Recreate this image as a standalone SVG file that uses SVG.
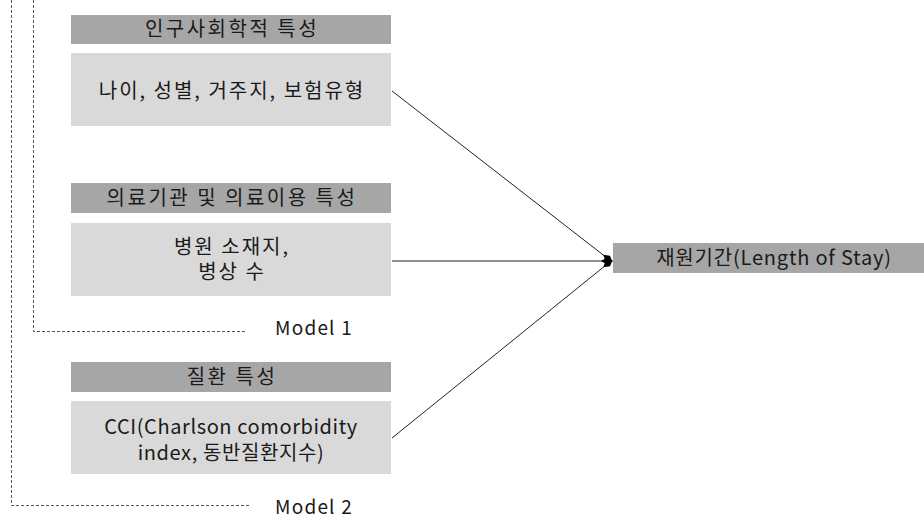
<svg xmlns="http://www.w3.org/2000/svg" width="924" height="520" viewBox="0 0 924 520">
<defs>
<style>
text{font-family:"Noto Sans CJK KR","Malgun Gothic",sans-serif;fill:#1a1a1a;text-anchor:middle;}
.hd{fill:#a6a6a6;}
.bd{fill:#d9d9d9;}
.t{font-size:20px;letter-spacing:2.5px;}
.b{font-size:20px;letter-spacing:2px;}
.m{font-size:19px;letter-spacing:1.2px;}
.los{font-size:20px;letter-spacing:0.8px;}
.dash{fill:none;stroke:#555;stroke-width:1;stroke-dasharray:3 2;}
.conn{stroke:#222;stroke-width:1;fill:none;marker-end:url(#dia);}
</style>
<marker id="dia" viewBox="0 0 12 8" refX="10" refY="4" markerWidth="12" markerHeight="8" markerUnits="userSpaceOnUse" orient="auto">
<path d="M0,4 L6,0.5 L12,4 L6,7.5 Z" fill="#000"/>
</marker>
</defs>
<g id="model-frames">
<path class="dash" d="M33.5,0 V331.5 H245"/>
<path class="dash" d="M11.5,0 V505.5 H250"/>
</g>
<g id="model1-label"><text x="314" y="335" class="m">Model 1</text></g>
<g id="model2-label"><text x="314" y="514" class="m">Model 2</text></g>
<g id="node-demo">
<rect class="hd" x="71" y="15" width="320" height="29"/>
<text x="232" y="36" class="t">인구사회학적 특성</text>
<rect class="bd" x="71" y="53" width="320" height="73"/>
<text x="232" y="98" class="b">나이, 성별, 거주지, 보험유형</text>
</g>
<g id="node-hosp">
<rect class="hd" x="71" y="183" width="320" height="30"/>
<text x="232" y="205" class="t">의료기관 및 의료이용 특성</text>
<rect class="bd" x="71" y="223" width="320" height="73"/>
<text class="b"><tspan x="232" y="254">병원 소재지,</tspan><tspan x="232" y="279">병상 수</tspan></text>
</g>
<g id="node-disease">
<rect class="hd" x="71" y="362" width="320" height="30"/>
<text x="232" y="384" class="t">질환 특성</text>
<rect class="bd" x="71" y="401" width="320" height="73"/>
<text class="b" style="letter-spacing:0.6px"><tspan x="231" y="434">CCI(Charlson comorbidity</tspan><tspan x="231" y="460">index, 동반질환지수)</tspan></text>
</g>
<g id="node-los">
<rect class="hd" x="613" y="243" width="311" height="30"/>
<text x="774" y="265" class="los">재원기간(Length of Stay)</text>
</g>
<g id="connectors">
<line class="conn" x1="392" y1="91" x2="611" y2="261"/>
<line class="conn" x1="392" y1="261" x2="611" y2="261"/>
<line class="conn" x1="392" y1="438" x2="611" y2="261"/>
</g>
</svg>
